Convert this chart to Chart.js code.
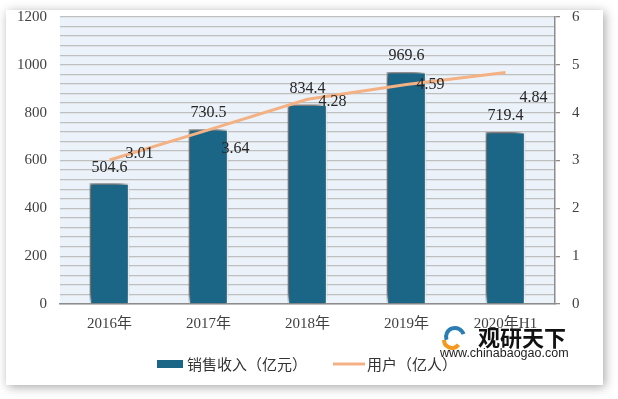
<!DOCTYPE html>
<html lang="zh-CN">
<head>
    <meta charset="UTF-8">
    <title>销售收入与用户</title>
    <style>
        html, body {
            margin: 0;
            padding: 0;
            background: #ffffff;
        }
        #wrap {
            width: 618px;
            height: 399px;
        }
    </style>
    <script src="https://cdn.jsdelivr.net/npm/chart.js"></script>
</head>
<body>
    <div id="wrap"><canvas id="chart" width="618" height="399"></canvas></div>

    <script>
        const categories = ['2016年', '2017年', '2018年', '2019年', '2020年H1'];
        const revenue = [504.6, 730.5, 834.4, 969.6, 719.4];
        const users = [3.01, 3.64, 4.28, 4.59, 4.84];
        const leftTicks = [0, 200, 400, 600, 800, 1000, 1200];
        const rightTicks = [0, 1, 2, 3, 4, 5, 6];

        const serif = '"Liberation Serif", "Noto Sans CJK SC", serif';
        const cjk = '"Noto Sans CJK SC", sans-serif';
        // where each user label sits relative to its point (as in the picture)
        const userLabelShift = [[30, -6], [27, 19], [25, 3], [24, 0], [28, 25]];

        const decor = {
            id: 'decor',
            beforeDraw(chart) {
                const ctx = chart.ctx;
                const a = chart.chartArea;
                ctx.save();
                // card with shadow
                ctx.shadowColor = 'rgba(0,0,0,0.35)';
                ctx.shadowBlur = 10;
                ctx.shadowOffsetX = 2;
                ctx.shadowOffsetY = 2;
                ctx.fillStyle = '#ffffff';
                ctx.fillRect(6, 10, 597, 375);
                ctx.restore();
                // plot background
                ctx.save();
                ctx.fillStyle = '#ebf2f9';
                ctx.fillRect(a.left, a.top, a.right - a.left, a.bottom - a.top);
                ctx.restore();
            },
            beforeDatasetDraw(chart, args) {
                if (args.meta.type === 'bar') {
                    const ctx = chart.ctx;
                    ctx.save();
                    ctx.shadowColor = 'rgba(0,0,0,0.7)';
                    ctx.shadowBlur = 8;
                    ctx.shadowOffsetX = -4;
                    ctx.shadowOffsetY = -3;
                }
            },
            afterDatasetDraw(chart, args) {
                if (args.meta.type === 'bar') chart.ctx.restore();
            },
            afterDatasetsDraw(chart) {
                const ctx = chart.ctx;
                ctx.save();
                ctx.fillStyle = '#262626';
                ctx.font = '16px ' + serif;
                ctx.textAlign = 'center';
                ctx.textBaseline = 'middle';
                const barMeta = chart.getDatasetMeta(1);
                barMeta.data.forEach((el, i) => {
                    ctx.fillText(revenue[i].toFixed(1), el.x, el.y - 16);
                });
                const lineMeta = chart.getDatasetMeta(0);
                lineMeta.data.forEach((el, i) => {
                    const s = userLabelShift[i];
                    ctx.fillText(users[i].toFixed(2), el.x + s[0], el.y + s[1]);
                });
                ctx.restore();
            },
            afterDraw(chart) {
                const ctx = chart.ctx;
                ctx.save();
                // legend
                const ly = 364;
                ctx.fillStyle = '#1b6586';
                ctx.fillRect(157, ly - 4, 26, 8);
                ctx.strokeStyle = '#f4b183';
                ctx.lineWidth = 3;
                ctx.beginPath();
                ctx.moveTo(333, ly);
                ctx.lineTo(365, ly);
                ctx.stroke();
                ctx.fillStyle = '#333333';
                ctx.font = '15px ' + cjk;
                ctx.textBaseline = 'middle';
                ctx.textAlign = 'left';
                ctx.fillText(chart.data.datasets[1].label, 187, ly);
                ctx.fillText(chart.data.datasets[0].label, 367, ly);

                // watermark
                ctx.lineWidth = 4;
                ctx.strokeStyle = '#2a7db5';
                ctx.beginPath();
                ctx.arc(455, 337, 9, Math.PI * 0.9, Math.PI * 1.9);
                ctx.stroke();
                ctx.strokeStyle = '#f39a1e';
                ctx.beginPath();
                ctx.arc(452, 340, 8, Math.PI * 0.2, Math.PI * 1.0);
                ctx.stroke();
                ctx.fillStyle = '#111111';
                ctx.font = 'bold 22px ' + cjk;
                ctx.textAlign = 'left';
                ctx.fillText('观研天下', 478, 338);
                ctx.fillStyle = '#222222';
                ctx.font = '12.5px "Liberation Sans", Arial, sans-serif';
                ctx.fillText('www.chinabaogao.com', 440, 354);
                ctx.restore();
            }
        };

        function fixVertical(s, w) {
            s.width = w;
            s.paddingTop = 0;
            s.paddingBottom = 0;
        }

        new Chart(document.getElementById('chart'), {
            data: {
                labels: categories,
                datasets: [
                    {
                        type: 'line',
                        label: '用户（亿人）',
                        data: users,
                        yAxisID: 'y1',
                        borderColor: '#f4b183',
                        borderWidth: 3,
                        pointRadius: 0,
                        tension: 0,
                        order: 0
                    },
                    {
                        type: 'bar',
                        label: '销售收入（亿元）',
                        data: revenue,
                        yAxisID: 'y',
                        backgroundColor: '#1b6586',
                        borderColor: '#ffffff',
                        borderWidth: 1.5,
                        barPercentage: 0.4,
                        categoryPercentage: 1,
                        order: 1
                    }
                ]
            },
            options: {
                responsive: false,
                animation: false,
                layout: { padding: { top: 17, left: 0, right: 0, bottom: 0 } },
                plugins: {
                    legend: { display: false },
                    tooltip: { enabled: false }
                },
                scales: {
                    x: {
                        grid: { display: false, drawTicks: false },
                        border: { color: '#8c8c8c', width: 1.5 },
                        ticks: { color: '#404040', font: { size: 15, family: serif }, padding: 11 },
                        afterFit(s) {
                            s.height = 95;
                            s.paddingLeft = 0;
                            s.paddingRight = 0;
                        }
                    },
                    y: {
                        position: 'left',
                        min: leftTicks[0],
                        max: leftTicks[leftTicks.length - 1],
                        afterBuildTicks(s) {
                            const t = [];
                            for (let v = 0; v <= 1200; v += 40) t.push({ value: v });
                            s.ticks = t;
                        },
                        grid: { color: '#bfbfbf', lineWidth: 1.3, drawTicks: false },
                        border: { display: false },
                        ticks: {
                            autoSkip: false,
                            color: '#404040',
                            font: { size: 15, family: serif },
                            padding: 13,
                            callback: v => leftTicks.includes(v) ? String(v) : ''
                        },
                        afterFit(s) { fixVertical(s, 60); }
                    },
                    y1: {
                        position: 'right',
                        min: rightTicks[0],
                        max: rightTicks[rightTicks.length - 1],
                        afterBuildTicks(s) {
                            s.ticks = rightTicks.map(v => ({ value: v }));
                        },
                        grid: { drawOnChartArea: false, color: '#8c8c8c', tickLength: 5, lineWidth: 1.3 },
                        border: { color: '#8c8c8c', width: 1.5 },
                        ticks: { color: '#404040', font: { size: 15, family: serif }, padding: 12 },
                        afterFit(s) { fixVertical(s, 63); }
                    }
                }
            },
            plugins: [decor]
        });
    </script>
</body>
</html>
